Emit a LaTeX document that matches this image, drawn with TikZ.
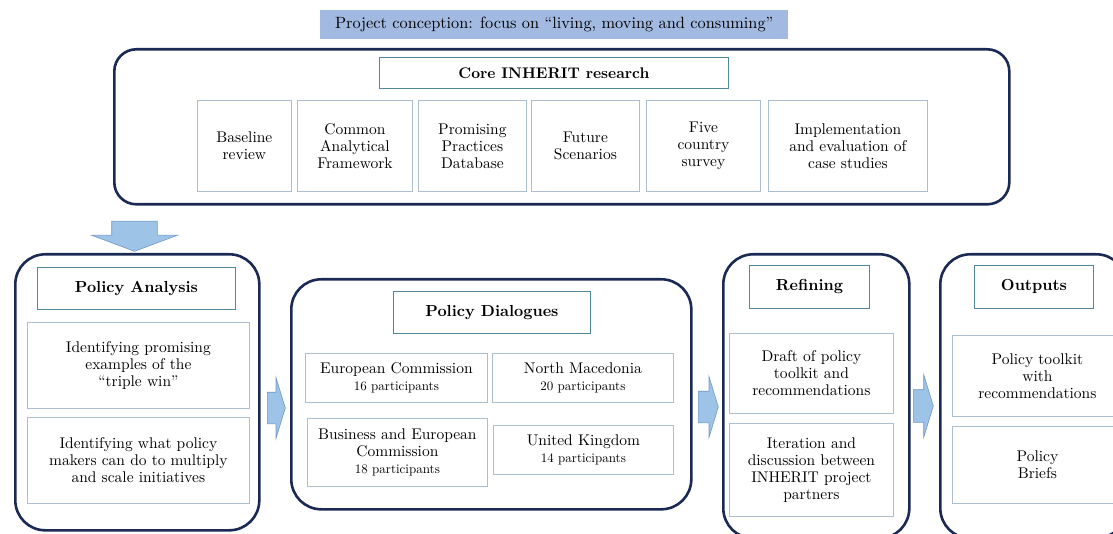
\documentclass[tikz,border=0pt]{standalone}
\usepackage{fontspec}
\setmainfont{lmroman10}[Extension=.otf, UprightFont=*-regular, BoldFont=*-bold, ItalicFont=*-italic, BoldItalicFont=*-bolditalic, Ligatures=TeX]
\usepackage{tikz}
\usetikzlibrary{positioning, shapes.arrows}
\definecolor{navy}{RGB}{27,42,85}
\definecolor{headline}{RGB}{80,135,155}
\definecolor{itemline}{RGB}{172,190,210}
\definecolor{bannerfill}{RGB}{162,186,226}
\definecolor{arrowfill}{RGB}{157,195,230}
\definecolor{arrowline}{RGB}{112,152,200}
\tikzset{
	stage/.append style={
		draw=navy,
		line width=2.6pt,
		rounded corners=30pt,
		anchor=north west,
	},
	title/.append style={
		draw=headline,
		line width=0.9pt,
		align = center,
		anchor=north west,
		font={\fontsize{16}{19}\selectfont\bfseries}
	},
	item/.append style={
		draw=itemline,
		line width=0.8pt,
		align = center,
		anchor=north west,
		inner sep=1pt,
		font={\fontsize{15.5}{17}\selectfont}
	},
	fat/.append style={
		single arrow,
		draw=arrowline,
		fill=arrowfill,
		line width=0.6pt,
		inner xsep=0pt,
		minimum width=1pt,
		anchor=tail,
	}
}
\newcommand{\parts}[1]{\\{\fontsize{13}{16}\selectfont #1 participants}}

\begin{document}
\begin{tikzpicture}[x=1pt, y=-1pt]
	\useasboundingbox (0,0) rectangle (1113,534);
	\clip (0,0) rectangle (1113,534);

	% project conception and core research
	\node(concept)[fill=bannerfill, minimum width=468pt, minimum height=29pt, anchor=north west,
		font={\fontsize{16.3}{19}\selectfont}] at (320,10)
		{Project conception: focus on ``living, moving and consuming''};
	\node(core)[stage, rounded corners=22pt, minimum width=895pt, minimum height=155pt] at (113,48) {};
	\node(corehead)[title, minimum width=349pt, minimum height=31pt, font={\fontsize{15.4}{18}\selectfont\bfseries}] at (379,57) {Core INHERIT research};
	\node(base)[item, minimum width=94pt, minimum height=91pt] at (197,100) {Baseline\\review};
	\node(frame)[item, minimum width=115pt, minimum height=91pt] at (297,100) {Common\\Analytical\\Framework};
	\node(db)[item, minimum width=108pt, minimum height=91pt] at (418,100) {Promising\\Practices\\Database};
	\node(future)[item, minimum width=108pt, minimum height=91pt] at (531,100) {Future\\Scenarios};
	\node(survey)[item, minimum width=114pt, minimum height=91pt] at (646,100) {Five\\country\\survey};
	\node(cases)[item, minimum width=159pt, minimum height=91pt] at (768,100) {Implementation\\and evaluation of\\case studies};

	% policy analysis
	\node(down)[fat, rotate=-90, inner ysep=22.5pt, single arrow head extend=20.5pt, minimum height=30pt, single arrow tip angle=139] at (134.5,221) {};
	\node(pa)[stage, minimum width=244pt, minimum height=276pt] at (14,253) {};
	\node(pahead)[title, minimum width=198pt, minimum height=42pt] at (37,267) {Policy Analysis};
	\node(pa1)[item, minimum width=222pt, minimum height=86pt] at (27,322) {Identifying promising\\examples of the\\``triple win''};
	\node(pa2)[item, minimum width=222pt, minimum height=86pt] at (27,417) {Identifying what policy\\makers can do to multiply\\and scale initiatives};

	% policy dialogues
	\node(r1)[fat, inner ysep=15.5pt, single arrow head extend=14.5pt, minimum height=18pt, single arrow tip angle=146] at (267,408) {};
	\node(pd)[stage, minimum width=400pt, minimum height=230pt] at (290,278) {};
	\node(pdhead)[title, minimum width=197pt, minimum height=42pt] at (393,291) {Policy Dialogues};
	\node(ec)[item, minimum width=182pt, minimum height=49pt] at (305,353) {European Commission\parts{16}};
	\node(nm)[item, minimum width=181pt, minimum height=49pt] at (492,353) {North Macedonia\parts{20}};
	\node(bus)[item, minimum width=180pt, minimum height=68pt] at (307,418) {Business and European\\Commission\parts{18}};
	\node(uk)[item, minimum width=180pt, minimum height=49pt] at (493,425) {United Kingdom\parts{14}};

	% refining
	\node(r2)[fat, inner ysep=15.5pt, single arrow head extend=14.5pt, minimum height=20pt, single arrow tip angle=146] at (698,407) {};
	\node(ref)[stage, minimum width=186pt, minimum height=284pt] at (722,253) {};
	\node(refhead)[title, minimum width=120pt, minimum height=43pt] at (749,265) {Refining};
	\node(ref1)[item, minimum width=164pt, minimum height=80pt] at (729,333) {Draft of policy\\toolkit and\\recommendations};
	\node(ref2)[item, minimum width=164pt, minimum height=93pt] at (729,423) {Iteration and\\discussion between\\INHERIT project\\partners};

	% outputs
	\node(r3)[fat, inner ysep=16pt, single arrow head extend=15pt, minimum height=20pt, single arrow tip angle=146] at (913,406) {};
	\node(out)[stage, minimum width=186pt, minimum height=284pt] at (939,253) {};
	\node(outhead)[title, minimum width=119pt, minimum height=43pt] at (974,265) {Outputs};
	\node(out1)[item, minimum width=170pt, minimum height=81pt] at (952,335) {Policy toolkit\\with\\recommendations};
	\node(out2)[item, minimum width=170pt, minimum height=77pt] at (952,426) {Policy\\Briefs};
\end{tikzpicture}
\end{document}
